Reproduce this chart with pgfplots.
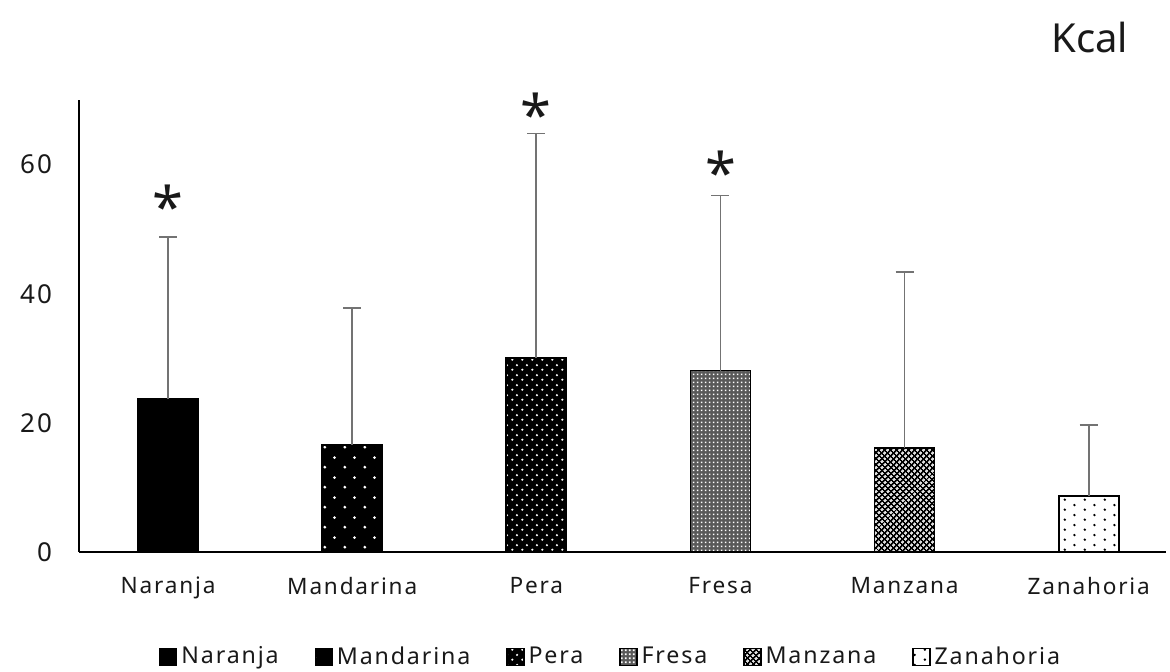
\documentclass[border=0pt]{standalone}
\usepackage{fontspec}
\setmainfont[LetterSpace=8]{Noto Sans}
\newfontfamily\kfont{Noto Sans}
\usepackage{pgfplots}
\pgfplotsset{compat=1.18}
\usetikzlibrary{patterns.meta}

\tikzdeclarepattern{
  name=mandots, type=uncolored,
  bottom left={(0pt,0pt)}, top right={(10pt,10pt)}, tile size={(10pt,10pt)},
  code={\fill (2.5pt,2.5pt) circle (0.8pt); \fill (7.5pt,7.5pt) circle (0.8pt);}
}
\tikzdeclarepattern{
  name=peradots, type=uncolored,
  bottom left={(0pt,0pt)}, top right={(5pt,5pt)}, tile size={(5pt,5pt)},
  code={\fill (1.25pt,1.25pt) circle (0.65pt); \fill (3.75pt,3.75pt) circle (0.65pt);}
}
\tikzdeclarepattern{
  name=finegrid, type=uncolored,
  bottom left={(0pt,0pt)}, top right={(2pt,2pt)}, tile size={(2pt,2pt)},
  code={\fill (0.5pt,0.5pt) rectangle (1.5pt,1.5pt);}
}
\tikzdeclarepattern{
  name=mycross, type=uncolored,
  bottom left={(0pt,0pt)}, top right={(2.4pt,2.4pt)}, tile size={(2.4pt,2.4pt)},
  tile transformation={rotate=45},
  code={\fill (0pt,0.7pt) rectangle (2.4pt,1.7pt); \fill (0.7pt,0pt) rectangle (1.7pt,2.4pt);}
}
\tikzdeclarepattern{
  name=zandots, type=uncolored,
  bottom left={(0pt,0pt)}, top right={(10pt,5pt)}, tile size={(10pt,5pt)},
  code={\fill (2.5pt,1.25pt) circle (0.7pt); \fill (7.5pt,3.75pt) circle (0.7pt);}
}

\pgfplotsset{
  mybar/.style={ybar, bar width=30pt, bar shift=0pt, draw=black, line width=0.9pt,
    legend image code/.code={\draw[##1, line width=0.6pt] (-1.5pt,-4.3pt) rectangle (7pt,4.3pt);}},
}

\begin{document}
\begin{tikzpicture}
\begin{axis}[
  scale only axis, width=543.5pt, height=226pt,
  xmin=-0.484, xmax=5.42, ymin=0, ymax=70,
  axis x line=bottom, axis y line=left,
  axis line style={-, line width=0.8pt, black},
  xtick={0,1,2,3,4,5},
  xticklabels={Naranja,Mandarina,Pera,Fresa,Manzana,Zanahoria},
  ytick={0,20,40,60}, major tick length=0pt,
  /pgf/number format/assume math mode=true,
  tick label style={text=black!90},
  xticklabel style={yshift=-9pt, font=\fontsize{11.3}{13}\selectfont},
  yticklabel style={xshift=-10pt, font=\fontsize{13}{15}\selectfont},
  clip=false,
  legend columns=6,
  legend style={at={(0.49,-0.232)}, anchor=center, draw=none, fill=none,
    font=\fontsize{11.6}{13}\selectfont, text=black!90, inner sep=0pt,
    /tikz/every even column/.append style={column sep=16pt}},
]
\addplot[mybar, fill=black] coordinates {(0,23.7)};
\addlegendentry{Naranja}
\addplot[mybar, fill=black, postaction={pattern=mandots, pattern color=white}] coordinates {(1,16.6)};
\addlegendentry{Mandarina}
\addplot[mybar, fill=black, postaction={pattern=peradots, pattern color=white}] coordinates {(2,30.1)};
\addlegendentry{Pera}
\addplot[mybar, fill=black!65, postaction={pattern=finegrid, pattern color=white}] coordinates {(3,28.1)};
\addlegendentry{Fresa}
\addplot[mybar, fill=white, postaction={pattern=mycross, pattern color=black}] coordinates {(4,16.1)};
\addlegendentry{Manzana}
\addplot[mybar, fill=white, postaction={pattern=zandots, pattern color=black}] coordinates {(5,8.7)};
\addlegendentry{Zanahoria}

\addplot[forget plot, draw=none, mark=none,
  error bars/.cd, y dir=plus, y explicit,
  error bar style={draw=black!55, line width=0.9pt},
  error mark options={rotate=90, mark size=4.5pt, draw=black!55, line width=0.9pt}]
  coordinates {
    (0,23.7) +- (0,25.1)
    (1,16.6) +- (0,21.2)
    (2,30.1) +- (0,34.7)
    (3,28.1) +- (0,27.1)
    (4,16.1) +- (0,27.3)
    (5,8.7) +- (0,11.0)
  };

\node[font=\kfont\bfseries\fontsize{28}{28}\selectfont, text=black!90, yshift=-6pt] at (axis cs:0,55.4) {*};
\node[font=\kfont\bfseries\fontsize{28}{28}\selectfont, text=black!90, yshift=-6pt] at (axis cs:2,69.7) {*};
\node[font=\kfont\bfseries\fontsize{28}{28}\selectfont, text=black!90, yshift=-6pt] at (axis cs:3,60.6) {*};
\node[font=\kfont\fontsize{20}{20}\selectfont, text=black!90] at (rel axis cs:0.930,1.139) {Kcal};

\path ([shift={(-39.5pt,-60pt)}]rel axis cs:0,0) rectangle ([shift={(2pt,50pt)}]rel axis cs:1,1);
\end{axis}
\end{tikzpicture}
\end{document}
